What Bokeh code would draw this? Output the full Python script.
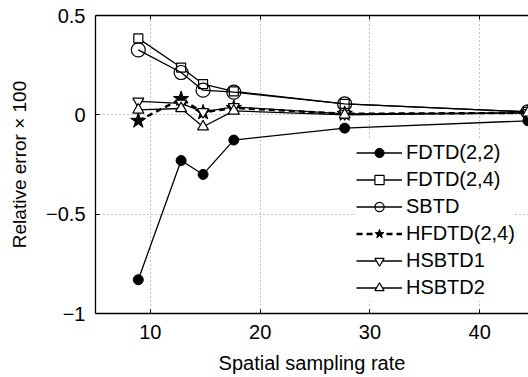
from bokeh.plotting import figure
from bokeh.models import Range1d, FixedTicker, LinearAxis, Legend
from bokeh.embed import file_html
from bokeh.resources import INLINE

rate = [8.9, 12.8, 14.8, 17.6, 27.7, 44.4]
fdtd22 = [-0.83, -0.23, -0.30, -0.127, -0.067, -0.03]
fdtd24 = [0.385, 0.238, 0.155, 0.118, 0.055, 0.015]
sbtd = [0.327, 0.213, 0.124, 0.114, 0.055, 0.015]
hfdtd24 = [-0.03, 0.08, 0.012, 0.035, 0.005, 0.01]
hsbtd1 = [0.068, 0.058, 0.015, 0.04, 0.005, 0.01]
hsbtd2 = [0.025, 0.032, -0.06, 0.02, 0.0, 0.01]

series_names = ["FDTD(2,2)", "FDTD(2,4)", "SBTD", "HFDTD(2,4)", "HSBTD1", "HSBTD2"]
x_ticks = [10, 20, 30, 40]
y_ticks = [-1, -0.5, 0, 0.5]
y_tick_labels = {-1: "\u22121", -0.5: "\u22120.5", 0: "0", 0.5: "0.5"}

FONT = "Liberation Sans"

p = figure(width=528, height=377, output_backend="svg", toolbar_location=None,
           x_range=Range1d(5, 44.45), y_range=Range1d(-1, 0.5),
           min_border_left=95, min_border_right=0, min_border_top=15, min_border_bottom=64)
p.outline_line_color = None
p.background_fill_color = "white"

for ax in (p.xaxis[0], p.yaxis[0]):
    ax.axis_line_color = "black"
    ax.axis_line_width = 1.3
    ax.major_tick_in = 4
    ax.major_tick_out = 0
    ax.minor_tick_line_color = None
    ax.major_label_text_font = FONT
    ax.major_label_text_font_size = "20px"
    ax.major_label_text_color = "black"
    ax.axis_label_text_font = FONT
    ax.axis_label_text_font_style = "normal"
    ax.axis_label_text_color = "black"

p.xaxis.axis_label_text_font_size = "20px"
p.yaxis.axis_label_text_font_size = "19px"
p.xaxis.ticker = FixedTicker(ticks=x_ticks)
p.yaxis.ticker = FixedTicker(ticks=y_ticks)
p.yaxis.major_label_overrides = y_tick_labels
p.yaxis.major_label_standoff = 10
p.xaxis.major_label_standoff = 11
p.xaxis.axis_label = "Spatial sampling rate"
p.yaxis.axis_label = "Relative error \u00d7 100"
p.xaxis.axis_label_standoff = 10
p.yaxis.axis_label_standoff = 13

top = LinearAxis(ticker=FixedTicker(ticks=[], minor_ticks=x_ticks),
                 major_tick_line_color=None, major_label_text_font_size="20px",
                 minor_tick_in=4, minor_tick_out=0, minor_tick_line_color="black",
                 axis_line_color="black", axis_line_width=1.3)
p.add_layout(top, "above")

p.xgrid.ticker = FixedTicker(ticks=x_ticks)
p.ygrid.ticker = FixedTicker(ticks=[-0.5, 0])
for g in (p.xgrid[0], p.ygrid[0]):
    g.grid_line_color = "#888888"
    g.grid_line_dash = "1 3"
    g.grid_line_width = 1

lw = 1.3
l1 = p.line(rate, fdtd22, line_color="black", line_width=lw)
s1 = p.scatter(rate, fdtd22, marker="circle", size=10, fill_color="black", line_color="black")
l2 = p.line(rate, fdtd24, line_color="black", line_width=lw)
s2 = p.scatter(rate, fdtd24, marker="square", size=9, fill_color="white", line_color="black", line_width=1.2)
l3 = p.line(rate, sbtd, line_color="black", line_width=lw)
s3 = p.scatter(rate, sbtd, marker="circle", size=14, fill_color=None, line_color="black", line_width=1.2)
l4 = p.line(rate, hfdtd24, line_color="black", line_width=2.4, line_dash="6 4")
s4 = p.scatter(rate, hfdtd24, marker="star", size=16, fill_color="black", line_color="black")
l5 = p.line(rate, hsbtd1, line_color="black", line_width=lw)
s5 = p.scatter(rate, hsbtd1, marker="inverted_triangle", size=11, fill_color="white", line_color="black", line_width=1.2)
l6 = p.line(rate, hsbtd2, line_color="black", line_width=lw)
s6 = p.scatter(rate, hsbtd2, marker="triangle", size=11, fill_color="white", line_color="black", line_width=1.2)

legend = Legend(items=[
    (series_names[0], [l1, s1]),
    (series_names[1], [l2, s2]),
    (series_names[2], [l3, s3]),
    (series_names[3], [l4, s4]),
    (series_names[4], [l5, s5]),
    (series_names[5], [l6, s6]),
], location=(261, 12))
legend.background_fill_color = "white"
legend.background_fill_alpha = 1
legend.border_line_color = None
legend.label_text_font = FONT
legend.label_text_font_size = "20px"
legend.label_text_color = "black"
legend.glyph_width = 46
legend.glyph_height = 23
legend.label_height = 27
legend.spacing = 0
legend.padding = 9
legend.margin = 0
legend.label_standoff = 4
p.add_layout(legend, "center")

open("out.html", "w").write(file_html(p, INLINE))
